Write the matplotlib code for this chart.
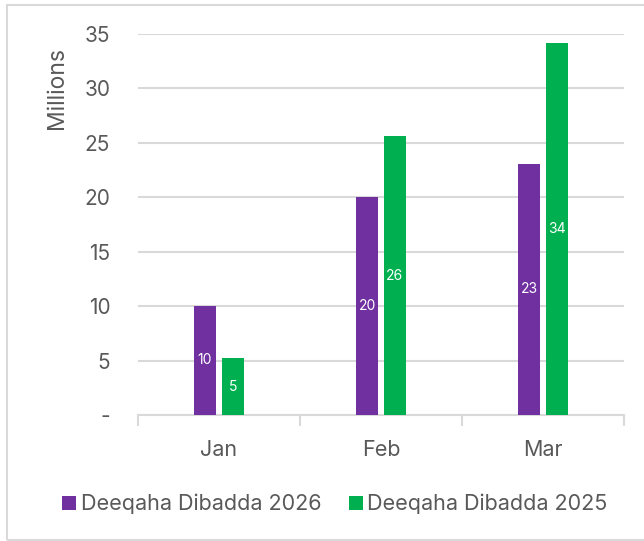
import matplotlib.pyplot as plt
from matplotlib.patches import Rectangle
import numpy as np

plt.rcParams['font.family'] = ['Inter', 'DejaVu Sans']

months = ['Jan', 'Feb', 'Mar']
dibadda_2026 = [10.05, 20.05, 23.1]
dibadda_2025 = [5.2, 25.6, 34.2]
labels_2026 = ['10', '20', '23']
labels_2025 = ['5', '26', '34']
yticks = [0, 5, 10, 15, 20, 25, 30, 35]
ytick_labels = ['-', '5', '10', '15', '20', '25', '30', '35']

purple = '#7030A0'
green = '#00B050'
text_col = '#595959'
grid_col = '#D9D9D9'

fig = plt.figure(figsize=(6.44, 5.41), dpi=100)
# outer chart frame
fig.patches.append(Rectangle((7/644, 1/541), 1.0, 535/541, transform=fig.transFigure,
                             fill=False, edgecolor=grid_col, linewidth=1.5))

ax = fig.add_axes([138/644, 126/541, 486/644, 381/541])

x = np.arange(len(months))
w = 0.136
off = 0.086
b1 = ax.bar(x - off, dibadda_2026, w, color=purple, label='Deeqaha Dibadda 2026', zorder=3)
b2 = ax.bar(x + off, dibadda_2025, w, color=green, label='Deeqaha Dibadda 2025', zorder=3)
ax.bar_label(b1, labels=labels_2026, label_type='center', color='white', fontsize=10)
ax.bar_label(b2, labels=labels_2025, label_type='center', color='white', fontsize=10)

ax.set_xlim(-0.5, 2.5)
ax.set_ylim(0, 35)
ax.set_yticks(yticks)
ax.set_yticklabels(ytick_labels)
ax.yaxis.grid(True, color=grid_col, linewidth=1.5, zorder=0)
ax.tick_params(axis='y', length=0, pad=20, labelsize=15, labelcolor=text_col)

ax.set_xticks(x)
ax.set_xticklabels(months)
ax.set_xticks([-0.5, 0.5, 1.5, 2.5], minor=True)
ax.tick_params(axis='x', which='major', length=0, pad=18, labelsize=15.5, labelcolor=text_col)
ax.tick_params(axis='x', which='minor', length=8, width=1.5, color=grid_col)

for s in ['top', 'right', 'left']:
    ax.spines[s].set_visible(False)
ax.spines['bottom'].set_color(grid_col)
ax.spines['bottom'].set_linewidth(1.5)

fig.text(57/644, 1 - 88/541, 'Millions', rotation=90, ha='center', va='center',
         fontsize=16.5, color=text_col)

fig.legend(loc='center', bbox_to_anchor=(335/644, 1 - 504/541), ncol=2, frameon=False,
           fontsize=15.5, labelcolor=text_col, handlelength=0.65, handleheight=0.65,
           handletextpad=0.2, columnspacing=1.3)

fig.savefig('out.png', dpi=100)
